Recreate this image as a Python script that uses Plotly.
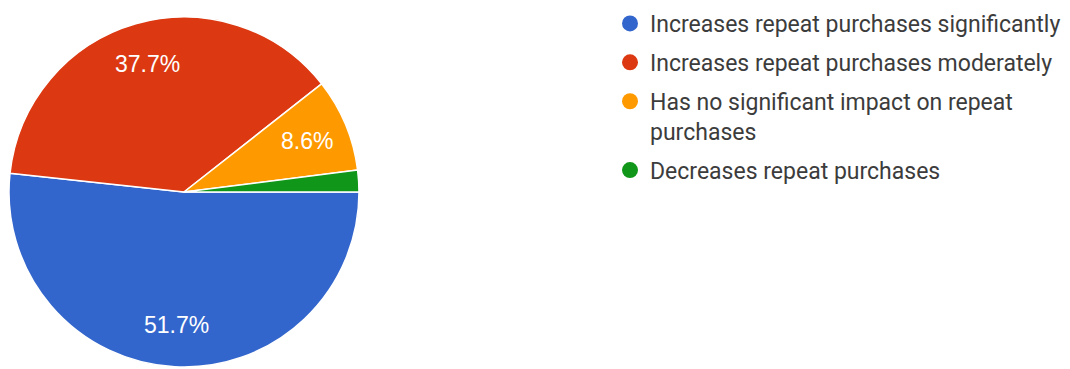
import math
import plotly.graph_objects as go

# Survey answers and their shares (%)
labels = [
    "Increases repeat purchases significantly",
    "Increases repeat purchases moderately",
    "Has no significant impact on repeat<br>purchases",
    "Decreases repeat purchases",
]
shares = [51.7, 37.7, 8.6, 2.0]
colors = ["#3366cc", "#dc3912", "#ff9900", "#109618"]
show_label = [True, True, True, False]   # the thin slice carries no label

W, H = 1070, 369
pie_x = [9 / W, 359 / W]
pie_y = [2 / H, 352 / H]

fig = go.Figure()
fig.add_trace(go.Pie(
    labels=labels,
    values=shares,
    sort=False,
    direction="clockwise",
    rotation=90,
    marker=dict(colors=colors, line=dict(color="white", width=1.5)),
    textinfo="none",
    hoverinfo="label+percent",
    showlegend=False,
    domain=dict(x=pie_x, y=pie_y),
))

# Percentage labels along each slice's bisector
cx = (pie_x[0] + pie_x[1]) / 2 * W
cy = (1 - (pie_y[0] + pie_y[1]) / 2) * H
radius = (pie_x[1] - pie_x[0]) * W / 2
total = sum(shares)
start = 0.0
for v, show in zip(shares, show_label):
    mid = (start + v / 2) / total * 2 * math.pi   # clockwise from 3 o'clock
    start += v
    if not show:
        continue
    px = cx + 0.76 * radius * math.cos(mid)
    py = cy + 0.76 * radius * math.sin(mid)
    fig.add_annotation(
        x=px / W, y=1 - py / H, xref="paper", yref="paper",
        text=f"{v / total * 100:.1f}%", showarrow=False,
        xanchor="center", yanchor="middle",
        font=dict(family="Liberation Sans, Arial", size=23, color="white"),
    )

# Circle legend entries, one group per answer so the rows can be spaced
for name, col in zip(labels, colors):
    fig.add_trace(go.Scatter(
        x=[None], y=[None], mode="markers", name=name, legendgroup=name,
        marker=dict(symbol="circle", size=16, color=col),
        hoverinfo="skip",
    ))

fig.update_layout(
    width=W, height=H,
    margin=dict(l=0, r=0, t=0, b=0),
    paper_bgcolor="white", plot_bgcolor="white",
    xaxis=dict(visible=False), yaxis=dict(visible=False),
    legend=dict(
        x=610 / W, y=1 - 2 / H, xanchor="left", yanchor="top",
        font=dict(family="Roboto, Arial", size=23, color="#3c3c3c"),
        tracegroupgap=6, itemsizing="trace", valign="top",
        bgcolor="rgba(0,0,0,0)",
    ),
)

fig.write_html("out.html")
